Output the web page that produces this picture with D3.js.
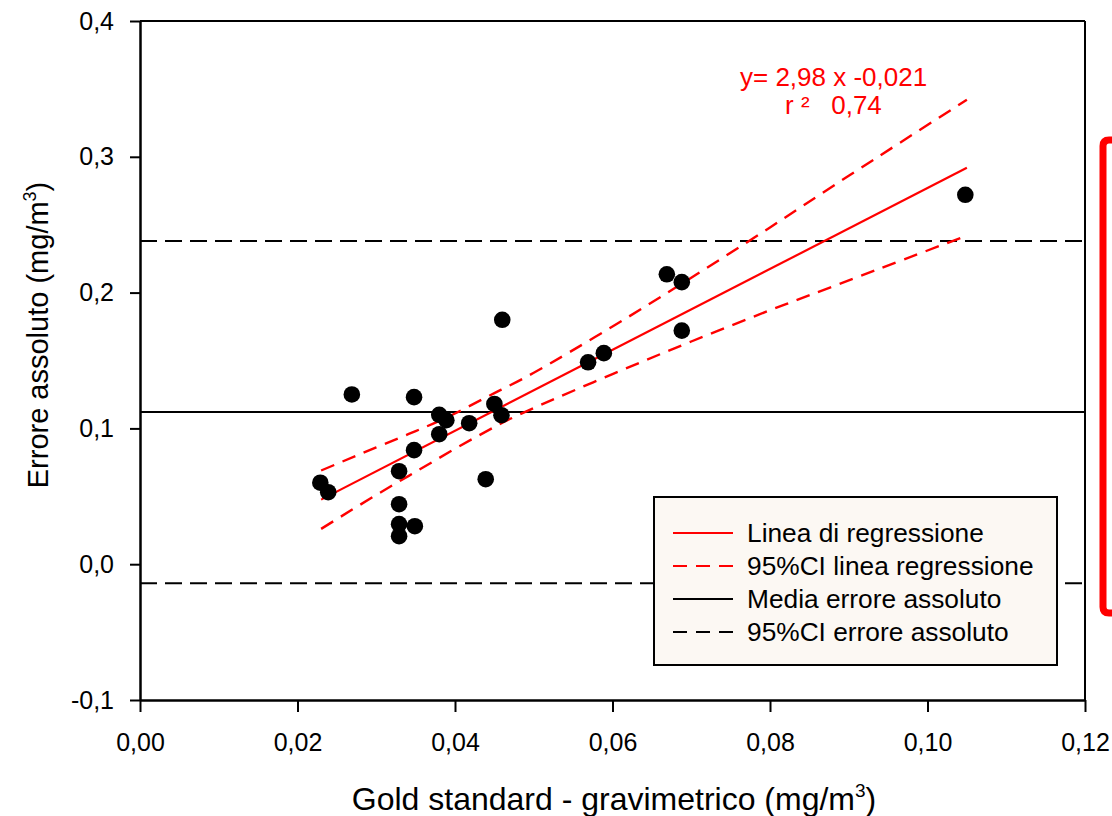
<!DOCTYPE html>
<html>
<head>
<meta charset="utf-8">
<script src="https://cdn.jsdelivr.net/npm/d3@7/dist/d3.min.js"></script>
<style>
  html, body { margin: 0; padding: 0; background: #ffffff; }
  svg { display: block; font-family: "Liberation Sans", Arial, sans-serif; }
</style>
</head>
<body>
<svg id="chart" width="1112" height="816"></svg>
<script>
// ---- data ----
const pointX = [0.0229, 0.0239, 0.0269, 0.0329, 0.0329, 0.0329, 0.0329, 0.0349, 0.0348, 0.0348,
                0.0380, 0.0389, 0.0380, 0.0418, 0.0450, 0.0459, 0.0439, 0.0460, 0.0569, 0.0589,
                0.0669, 0.0688, 0.0688, 0.1048];
const pointY = [0.060, 0.053, 0.125, 0.0685, 0.0442, 0.0295, 0.0206, 0.028, 0.084, 0.123,
                0.110, 0.106, 0.0957, 0.1038, 0.118, 0.1097, 0.0626, 0.180, 0.1487, 0.1554,
                0.2135, 0.2077, 0.172, 0.272];
const regSlope = 2.98;
const regIntercept = -0.021;
const regRange = [0.023, 0.105];
const ciX     = [0.023, 0.030, 0.035, 0.040, 0.045, 0.050, 0.060, 0.070, 0.080, 0.090, 0.105];
const ciUpper = [0.069, 0.086, 0.098, 0.111, 0.126, 0.141, 0.175, 0.211, 0.248, 0.286, 0.342];
const ciLower = [0.026, 0.051, 0.068, 0.085, 0.101, 0.115, 0.140, 0.164, 0.187, 0.209, 0.242];
const meanError = 0.112;
const errCIUpper = 0.238;
const errCILower = -0.014;
const xTicks = [0, 0.02, 0.04, 0.06, 0.08, 0.10, 0.12];
const yTicks = [-0.1, 0, 0.1, 0.2, 0.3, 0.4];
const legendLabels = ["Linea di regressione", "95%CI linea regressione", "Media errore assoluto", "95%CI errore assoluto"];
const equationText = "y= 2,98 x -0,021";
const r2Text = "r ²   0,74";

// ---- setup ----
const svg = d3.select("#chart");
const W = 1112, H = 816;
const pL = 140, pR = 1085, pT = 21, pB = 700;
const x = d3.scaleLinear().domain([0, 0.12]).range([pL, pR]);
const y = d3.scaleLinear().domain([-0.1, 0.4]).range([pB, pT]);
const it = d3.formatLocale({decimal: ",", thousands: ".", grouping: [3], currency: ["", "€"], minus: "-"});
const fx = it.format(".2f"), fy = it.format(".1f");

svg.append("rect").attr("width", W).attr("height", H).attr("fill", "#ffffff");

// frame top & right
svg.append("line").attr("x1", pL).attr("x2", pR).attr("y1", pT).attr("y2", pT)
  .attr("stroke", "#000").attr("stroke-width", 2);
svg.append("line").attr("x1", pR).attr("x2", pR).attr("y1", pT).attr("y2", pB)
  .attr("stroke", "#000").attr("stroke-width", 2);

// horizontal reference lines
const hline = (v, dash) => svg.append("line")
  .attr("x1", pL).attr("x2", pR).attr("y1", y(v)).attr("y2", y(v))
  .attr("stroke", "#000").attr("stroke-width", 2)
  .attr("stroke-dasharray", dash);
hline(meanError, null);
hline(errCIUpper, "17,8");
hline(errCILower, "17,8");

// regression + CI
const line = d3.line().x(d => x(d[0])).y(d => y(d[1])).curve(d3.curveNatural);
svg.append("path")
  .attr("d", d3.line().x(d => x(d)).y(d => y(regSlope * d + regIntercept))(regRange))
  .attr("fill", "none").attr("stroke", "#ff0000").attr("stroke-width", 2.2);
svg.append("path").attr("d", line(ciX.map((v, i) => [v, ciUpper[i]])))
  .attr("fill", "none").attr("stroke", "#ff0000").attr("stroke-width", 2.4).attr("stroke-dasharray", "14,9");
svg.append("path").attr("d", line(ciX.map((v, i) => [v, ciLower[i]])))
  .attr("fill", "none").attr("stroke", "#ff0000").attr("stroke-width", 2.4).attr("stroke-dasharray", "14,9");

// points
svg.append("g").selectAll("circle").data(pointX.map((v, i) => [v, pointY[i]])).join("circle")
  .attr("cx", d => x(d[0])).attr("cy", d => y(d[1])).attr("r", 8.3).attr("fill", "#000");

// axes
const xAxis = svg.append("g").attr("transform", `translate(0,${pB})`)
  .call(d3.axisBottom(x).tickValues(xTicks).tickFormat(fx).tickSize(12).tickSizeOuter(0).tickPadding(21));
const yAxis = svg.append("g").attr("transform", `translate(${pL},0)`)
  .call(d3.axisLeft(y).tickValues(yTicks).tickFormat(fy).tickSize(10).tickSizeOuter(0).tickPadding(16));
[xAxis, yAxis].forEach(a => {
  a.selectAll("path.domain").attr("stroke", "#000").attr("stroke-width", 2.5);
  a.selectAll(".tick line").attr("stroke", "#000").attr("stroke-width", 2);
  a.selectAll("text").attr("fill", "#000").style("font-size", "25px")
    .style("font-family", '"Liberation Sans", Arial, sans-serif');
});

// axis titles
const xt = svg.append("text").attr("x", 614).attr("y", 810).attr("text-anchor", "middle")
  .style("font-size", "32px").attr("fill", "#000");
xt.append("tspan").text("Gold standard - gravimetrico (mg/m");
xt.append("tspan").text("3").attr("dy", -13).style("font-size", "19px");
xt.append("tspan").text(")").attr("dy", 13);

const yt = svg.append("text").attr("transform", "translate(48,335) rotate(-90)")
  .attr("text-anchor", "middle").style("font-size", "29px").attr("fill", "#000");
yt.append("tspan").text("Errore assoluto (mg/m");
yt.append("tspan").text("3").attr("dy", -12).style("font-size", "18px");
yt.append("tspan").text(")").attr("dy", 12);

// equation
svg.append("text").attr("x", 740).attr("y", 86).text(equationText)
  .style("font-size", "26px").attr("fill", "#ff0000");
svg.append("text").attr("x", 785).attr("y", 114).text(r2Text)
  .style("font-size", "26px").style("white-space", "pre").attr("fill", "#ff0000");

// legend
const lg = svg.append("g");
lg.append("rect").attr("x", 654).attr("y", 497).attr("width", 403).attr("height", 168)
  .attr("fill", "#fcf8f3").attr("stroke", "#000").attr("stroke-width", 2);
const lgStyles = [["#ff0000", null], ["#ff0000", "14,9"], ["#000", null], ["#000", "14,9"]];
const lgY = [533, 566, 599, 632];
legendLabels.forEach((lab, i) => {
  lg.append("line").attr("x1", 673).attr("x2", 733).attr("y1", lgY[i]).attr("y2", lgY[i])
    .attr("stroke", lgStyles[i][0]).attr("stroke-width", 2).attr("stroke-dasharray", lgStyles[i][1]);
  lg.append("text").attr("x", 747).attr("y", lgY[i]).attr("dy", "0.35em").text(lab)
    .style("font-size", "26.3px").attr("fill", "#000");
});

// red box on the right edge
svg.append("path")
  .attr("d", "M1118,140 L1109,140 Q1103,140 1103,146 L1103,607 Q1103,613 1109,613 L1118,613")
  .attr("fill", "none").attr("stroke", "#ff0000").attr("stroke-width", 7);
</script>
</body>
</html>
